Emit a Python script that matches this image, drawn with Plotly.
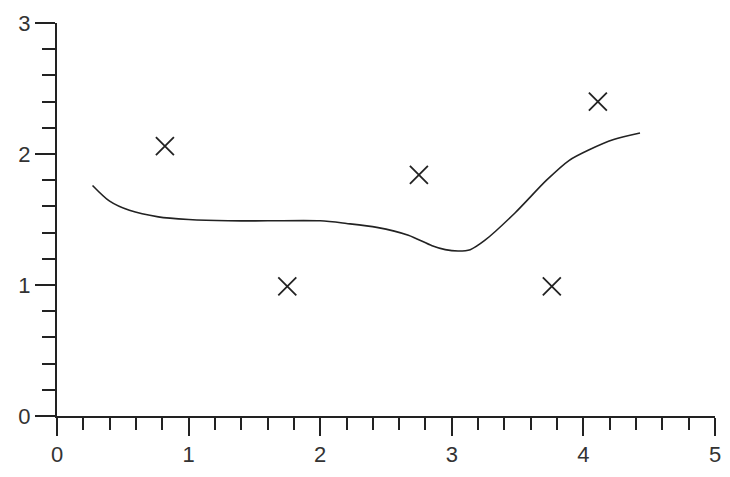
import plotly.graph_objects as go

# Scatter points (crosses)
pts_x = [0.82, 1.75, 2.75, 3.76, 4.11]
pts_y = [2.06, 0.99, 1.84, 0.99, 2.40]

# Smooth fitted curve
curve_x = [0.27, 0.40, 0.55, 0.77, 1.00, 1.30, 1.60, 2.00, 2.20, 2.43, 2.67, 2.85,
           2.95, 3.05, 3.14, 3.25, 3.48, 3.72, 3.89, 4.04, 4.23, 4.43]
curve_y = [1.76, 1.64, 1.57, 1.52, 1.50, 1.49, 1.49, 1.49, 1.47, 1.44, 1.38, 1.30,
           1.27, 1.26, 1.27, 1.34, 1.55, 1.80, 1.95, 2.03, 2.11, 2.16]

x_ticks = [0, 1, 2, 3, 4, 5]
y_ticks = [0, 1, 2, 3]

ink = "#222222"
font = dict(family="Liberation Sans Narrow, Liberation Sans, Arial", size=22, color="#333333")

fig = go.Figure()
fig.add_trace(go.Scatter(x=curve_x, y=curve_y, mode="lines",
                         line=dict(color=ink, width=1.6, shape="spline", smoothing=0.8),
                         showlegend=False, hoverinfo="skip"))
fig.add_trace(go.Scatter(x=pts_x, y=pts_y, mode="markers",
                         marker=dict(symbol="x-thin-open", size=18, color=ink,
                                     line=dict(color=ink, width=1.8)),
                         showlegend=False))

# page body adds an 8px margin; size the figure so the page is exactly 730x477
fig.update_layout(
    width=714, height=461,
    margin=dict(l=49, r=7, t=15, b=53),
    paper_bgcolor="white", plot_bgcolor="white",
    font=font,
    xaxis=dict(range=[0, 5], tickvals=x_ticks, ticktext=[str(v) for v in x_ticks],
               showgrid=False, zeroline=False, showline=True, linecolor=ink, linewidth=2,
               ticks="outside", ticklen=18, tickwidth=2, tickcolor=ink,
               minor=dict(dtick=0.2, ticks="outside", ticklen=12, tickwidth=2, tickcolor=ink, showgrid=False),
               tickfont=font, fixedrange=True, automargin=False),
    yaxis=dict(range=[0, 3], tickvals=y_ticks, ticktext=[str(v) for v in y_ticks],
               showgrid=False, zeroline=False, showline=True, linecolor=ink, linewidth=2,
               ticks="outside", ticklen=20, tickwidth=2, tickcolor=ink,
               minor=dict(dtick=0.2, ticks="outside", ticklen=13, tickwidth=2, tickcolor=ink, showgrid=False),
               tickfont=font, fixedrange=True, automargin=False),
)

fig.write_html("out.html")
